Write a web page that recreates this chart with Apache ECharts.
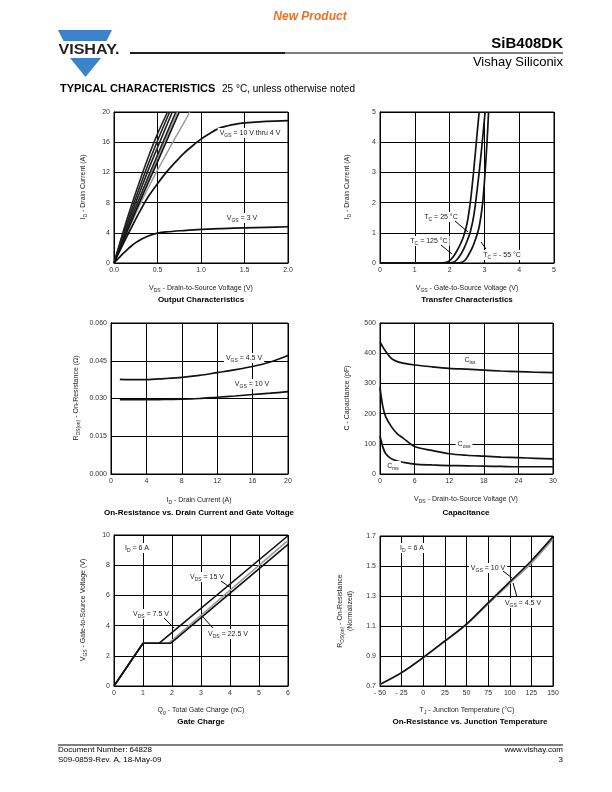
<!DOCTYPE html>
<html><head><meta charset="utf-8">
<script src="https://cdn.jsdelivr.net/npm/echarts@6/dist/echarts.min.js"></script>
<style>html,body{margin:0;padding:0;background:#fff}#c{width:612px;height:792px}</style>
</head><body><div id="c"></div>
<script>
// ---------- DATA ----------
// Output characteristics: [VDS (V), ID (A)]
const outBundle1 = [[0,0],[0.1,3.95],[0.2,7.6],[0.3,11.0],[0.4,14.2],[0.5,17.1],[0.615,20]];
const outBundle2 = [[0,0],[0.1,3.6],[0.2,7.0],[0.3,10.2],[0.4,13.3],[0.5,16.2],[0.64,20]];
const outBundle3 = [[0,0],[0.1,3.3],[0.2,6.5],[0.3,9.5],[0.4,12.5],[0.5,15.3],[0.67,20]];
const outBundle4 = [[0,0],[0.1,3.05],[0.2,6.0],[0.3,8.8],[0.4,11.6],[0.5,14.3],[0.71,20]];
const outBundleGray = [[0,0],[0.1,2.9],[0.2,5.7],[0.3,8.5],[0.4,11.2],[0.5,13.9],[0.73,20]];
const outBundle5 = [[0,0],[0.1,2.8],[0.2,5.5],[0.3,8.2],[0.4,10.8],[0.5,13.4],[0.75,20]];
const outGrayOuter = [[0,0],[0.1,2.7],[0.2,5.3],[0.3,7.8],[0.4,10.1],[0.5,12.3],[0.6,14.4],[0.7,16.5],[0.8,18.5],[0.87,20]];
const outVgs4 = [[0,0],[0.1,2.4],[0.2,4.7],[0.3,6.9],[0.4,8.9],[0.5,10.5],[0.6,12.0],[0.7,13.3],[0.8,14.5],[0.9,15.5],[1.0,16.4],[1.1,17.15],[1.2,17.8],[1.3,18.15],[1.4,18.4],[1.5,18.55],[1.75,18.75],[2.0,18.85]];
const outVgs3 = [[0,0],[0.05,0.6],[0.1,1.2],[0.15,1.75],[0.2,2.25],[0.25,2.7],[0.3,3.05],[0.35,3.35],[0.4,3.6],[0.5,3.95],[0.6,4.12],[0.8,4.3],[1.0,4.45],[1.25,4.56],[1.5,4.65],[1.75,4.72],[2.0,4.8]];

// Transfer characteristics: [VGS (V), ID (A)]
const tr125 = [[0,0],[1.7,0],[1.9,0.02],[2.0,0.08],[2.1,0.2],[2.2,0.38],[2.3,0.6],[2.4,0.88],[2.5,1.3],[2.6,2.05],[2.7,3.15],[2.8,4.4],[2.85,5.0]];
const tr25 = [[0,0],[1.9,0],[2.1,0.02],[2.2,0.1],[2.3,0.25],[2.4,0.45],[2.5,0.72],[2.6,1.05],[2.7,1.6],[2.8,2.5],[2.9,3.55],[3.0,4.75],[3.02,5.0]];
const trM55 = [[0,0],[2.2,0],[2.35,0.02],[2.45,0.1],[2.55,0.28],[2.65,0.5],[2.75,0.8],[2.85,1.2],[2.95,2.0],[3.02,3.0],[3.08,4.1],[3.12,5.0]];

// On-resistance vs drain current
const rdsId = [1,2,4,6,8,10,12,14,16,18,20];
const rdsVgs45 = [0.0376,0.0375,0.0375,0.0379,0.0384,0.0392,0.0403,0.0414,0.0427,0.0445,0.0471];
const rdsVgs10 = [0.0295,0.0295,0.0295,0.0296,0.0297,0.0300,0.0305,0.0310,0.0316,0.0321,0.0327];

// Capacitance
const capVds = [0,0.5,1,2,3,4,6,9,12,15,18,21,24,27,30];
const ciss = [437,420,406,382,372,367,361,355,350,347,344,341,339,337,336];
const coss = [286,222,189,156,133,119,91,78,67,62,59,56,54,52,50];
const crss = [126,89,67,50,43,39,33,30,28,27,26,25,24,24,24];

// Gate charge: [Qg (nC), VGS (V)]
const qgVds75 = [[0,0],[1.0,2.83],[1.55,2.83],[6,9.95]];
const qgVds15 = [[0,0],[1.0,2.83],[1.88,2.83],[6,9.65]];
const qgVds225 = [[0,0],[1.0,2.83],[1.95,2.83],[6,9.38]];

// On-resistance vs junction temperature
const tj = [-50,-25,0,25,50,75,100,125,150];
const rnVgs10 = [0.711,0.789,0.89,1.0,1.113,1.254,1.394,1.535,1.696];
const rnVgs45 = [0.711,0.789,0.888,0.998,1.11,1.248,1.385,1.52,1.68];

// ---------- CHART ----------
const FONT = "'Liberation Sans', Arial, Helvetica, sans-serif";
const zip = (xs, ys) => xs.map((x, i) => [x, ys[i]]);

function richStr(str) {
  let out = '', last = 0, m;
  const re = /_\{([^}]*)\}/g;
  while ((m = re.exec(str))) {
    if (m.index > last) out += '{n|' + str.slice(last, m.index) + '}';
    out += '{s|' + m[1] + '}';
    last = re.lastIndex;
  }
  if (last < str.length) out += '{n|' + str.slice(last) + '}';
  return out;
}
function T(x, y, str, o) {
  o = o || {};
  const fs = o.fs || 7;
  const fw = o.bold ? 'bold' : 'normal';
  const col = o.color || '#222';
  const style = {
    text: richStr(str), x: 0, y: 0,
    align: o.align || 'center', verticalAlign: 'middle',
    fill: col, fontSize: fs, fontFamily: FONT, fontWeight: fw, fontStyle: o.italic ? 'italic' : 'normal',
    rich: {
      n: {fontSize: fs, fontFamily: FONT, fontWeight: fw, fontStyle: o.italic ? 'italic' : 'normal', fill: col, lineHeight: fs + 3},
      s: {fontSize: Math.max(4, Math.round(fs * 0.72)), fontFamily: FONT, fontWeight: fw, fill: col,
          lineHeight: Math.max(4, Math.round(fs * 0.72)), verticalAlign: 'bottom'}
    }
  };
  if (o.bg) { style.backgroundColor = o.bg; style.padding = [0, 2, 0, 2]; }
  const el = {type: 'text', x: x, y: y, rotation: o.rot || 0, z: 100, silent: true, style: style};
  if (o.sx) el.scaleX = o.sx;
  return el;
}
function L(x1, y1, x2, y2, w) {
  return {type: 'line', z: 100, silent: true, shape: {x1, y1, x2, y2}, style: {stroke: '#000', lineWidth: w || 1}};
}

const grids = [
  {left: 114, top: 112, width: 174, height: 151},
  {left: 380, top: 112, width: 174, height: 151},
  {left: 111, top: 323, width: 177, height: 151},
  {left: 380, top: 323, width: 173, height: 151},
  {left: 114, top: 535, width: 174, height: 151},
  {left: 380, top: 536, width: 173, height: 150}
].map(g => Object.assign(g, {show: true, borderColor: '#000', borderWidth: 1, backgroundColor: 'transparent'}));

function ax(gi, min, max, interval, fmt) {
  return {
    type: 'value', gridIndex: gi, min, max, interval,
    axisLine: {show: true, lineStyle: {color: '#000', width: 1}},
    axisTick: {show: false},
    splitLine: {show: true, lineStyle: {color: '#000', width: 1}},
    axisLabel: {fontSize: 7, color: '#333', fontFamily: FONT, margin: 4, showMinLabel: true, showMaxLabel: true,
                formatter: fmt || (v => String(v))},
    silent: true
  };
}
const xAxes = [
  ax(0, 0, 2, 0.5, v => v.toFixed(1)),
  ax(1, 0, 5, 1),
  ax(2, 0, 20, 4),
  ax(3, 0, 30, 6),
  ax(4, 0, 6, 1),
  ax(5, -50, 150, 25, v => v < 0 ? '- ' + Math.abs(v) : String(v))
];
const yAxes = [
  ax(0, 0, 20, 4),
  ax(1, 0, 5, 1),
  ax(2, 0, 0.06, 0.015, v => v.toFixed(3)),
  ax(3, 0, 500, 100),
  ax(4, 0, 10, 2),
  ax(5, 0.7, 1.7, 0.2, v => v.toFixed(1))
];

const BLACK = '#111', GRAY = '#9a9a9a';
function S(i, data, color, w, smooth) {
  return {type: 'line', xAxisIndex: i, yAxisIndex: i, data: data, symbol: 'none', showSymbol: false,
          smooth: smooth === undefined ? 0.3 : smooth, silent: true,
          lineStyle: {color: color, width: w || 1.6}, z: 5};
}
const series = [
  S(0, outGrayOuter, GRAY, 1.5), S(0, outBundleGray, GRAY, 1.6),
  S(0, outBundle1, '#222', 1.6), S(0, outBundle2, '#222', 1.6), S(0, outBundle3, '#222', 1.6),
  S(0, outBundle4, '#222', 1.6), S(0, outBundle5, BLACK, 1.6),
  S(0, outVgs4, BLACK, 1.7), S(0, outVgs3, BLACK, 1.7),
  S(1, tr125, BLACK, 1.7), S(1, tr25, BLACK, 1.7), S(1, trM55, BLACK, 1.7),
  S(2, zip(rdsId, rdsVgs45), BLACK, 1.7), S(2, zip(rdsId, rdsVgs10), BLACK, 1.7),
  S(3, zip(capVds, ciss), BLACK, 1.7), S(3, zip(capVds, coss), BLACK, 1.7), S(3, zip(capVds, crss), BLACK, 1.7),
  S(4, qgVds15, GRAY, 1.6, false), S(4, qgVds225, BLACK, 1.6, false), S(4, qgVds75, BLACK, 1.6, false),
  S(5, zip(tj, rnVgs45), GRAY, 1.8), S(5, zip(tj, rnVgs10), BLACK, 1.6)
];

const R90 = Math.PI / 2;
const blue = '#3c82c8';
const graphic = [
  // header
  T(310, 17, 'New Product', {fs: 12, bold: true, italic: true, color: '#f07022'}),
  {type: 'polygon', silent: true, shape: {points: [[58,30],[112,30],[106.5,41],[63.5,41]]}, style: {fill: blue}},
  {type: 'polygon', silent: true, shape: {points: [[70,58],[101,58],[85.5,77]]}, style: {fill: blue}},
  T(89, 50, 'VISHAY.', {fs: 14, bold: true, color: '#231f20', sx: 1.15}),
  L(130, 53, 563, 53, 1),
  L(130, 53, 285, 53, 1.6),
  T(563, 44, 'SiB408DK', {fs: 15, bold: true, align: 'right', color: '#000'}),
  T(563, 62, 'Vishay Siliconix', {fs: 13, align: 'right', color: '#000'}),
  T(60, 89, 'TYPICAL CHARACTERISTICS', {fs: 11, bold: true, align: 'left', color: '#000'}),
  T(222, 89, '25 °C, unless otherwise noted', {fs: 10, align: 'left', color: '#000'}),
  // footer
  L(58, 745, 563, 745, 1),
  T(58, 750, 'Document Number: 64828', {fs: 8, align: 'left', color: '#000'}),
  T(58, 760, 'S09-0859-Rev. A, 18-May-09', {fs: 8, align: 'left', color: '#000'}),
  T(563, 750, 'www.vishay.com', {fs: 8, align: 'right', color: '#000'}),
  T(563, 760, '3', {fs: 8, align: 'right', color: '#000'}),

  // chart 1
  T(83, 187, 'I_{D} - Drain Current (A)', {rot: R90}),
  T(201, 288, 'V_{DS} - Drain-to-Source Voltage (V)'),
  T(201, 300, 'Output Characteristics', {fs: 8, bold: true, color: '#000'}),
  T(250, 133, 'V_{GS} = 10 V thru 4 V', {bg: '#fff'}),
  T(242, 218, 'V_{GS} = 3 V', {bg: '#fff'}),
  // chart 2
  T(347, 187, 'I_{D} - Drain Current (A)', {rot: R90}),
  T(467, 288, 'V_{GS} - Gate-to-Source Voltage (V)'),
  T(467, 300, 'Transfer Characteristics', {fs: 8, bold: true, color: '#000'}),
  T(441, 217, 'T_{C} = 25 °C', {bg: '#fff'}),
  L(455, 221, 468, 232),
  T(429, 241, 'T_{C} = 125 °C', {bg: '#fff'}),
  L(441, 245, 452, 254),
  T(502, 255, 'T_{C} = - 55 °C', {bg: '#fff'}),
  L(486, 249, 481, 242),
  // chart 3
  T(76, 398, 'R_{DS(on)} - On-Resistance (Ω)', {rot: R90}),
  T(199, 500, 'I_{D} - Drain Current (A)'),
  T(199, 513, 'On-Resistance vs. Drain Current and Gate Voltage', {fs: 8, bold: true, color: '#000'}),
  T(244, 358, 'V_{GS} = 4.5 V', {bg: '#fff'}),
  T(252, 384, 'V_{GS} = 10 V', {bg: '#fff'}),
  // chart 4
  T(347, 398, 'C - Capacitance (pF)', {rot: R90}),
  T(466, 499, 'V_{DS} - Drain-to-Source Voltage (V)'),
  T(466, 513, 'Capacitance', {fs: 8, bold: true, color: '#000'}),
  T(470, 360, 'C_{iss}', {bg: '#fff'}),
  T(464, 444, 'C_{oss}', {bg: '#fff'}),
  T(393, 466, 'C_{rss}', {bg: '#fff'}),
  // chart 5
  T(83, 610, 'V_{GS} - Gate-to-Source Voltage (V)', {rot: R90}),
  T(201, 710, 'Q_{g} - Total Gate Charge (nC)'),
  T(201, 722, 'Gate Charge', {fs: 8, bold: true, color: '#000'}),
  T(137, 548, 'I_{D} = 6 A', {bg: '#fff'}),
  T(207, 577, 'V_{DS} = 15 V', {bg: '#fff'}),
  L(221, 581, 231, 588),
  T(151, 614, 'V_{DS} = 7.5 V', {bg: '#fff'}),
  L(164, 618, 174, 628),
  T(228, 634, 'V_{DS} = 22.5 V', {bg: '#fff'}),
  L(213, 628, 203, 617),
  // chart 6
  T(340, 611, 'R_{DS(on)} - On-Resistance', {rot: R90}),
  T(350, 611, '(Normalized)', {rot: R90}),
  T(467, 710, 'T_{J} - Junction Temperature (°C)'),
  T(470, 722, 'On-Resistance vs. Junction Temperature', {fs: 8, bold: true, color: '#000'}),
  T(412, 548, 'I_{D} = 6 A', {bg: '#fff'}),
  T(488, 568, 'V_{GS} = 10 V', {bg: '#fff'}),
  L(503, 571, 512, 578),
  T(523, 603, 'V_{GS} = 4.5 V', {bg: '#fff'}),
  L(517, 597, 513, 583)
];

const chart = echarts.init(document.getElementById('c'), null, {renderer: 'canvas', width: 612, height: 792});
chart.setOption({
  animation: false,
  backgroundColor: '#fff',
  grid: grids, xAxis: xAxes, yAxis: yAxes, series: series,
  graphic: {elements: graphic}
});
</script>
</body></html>
